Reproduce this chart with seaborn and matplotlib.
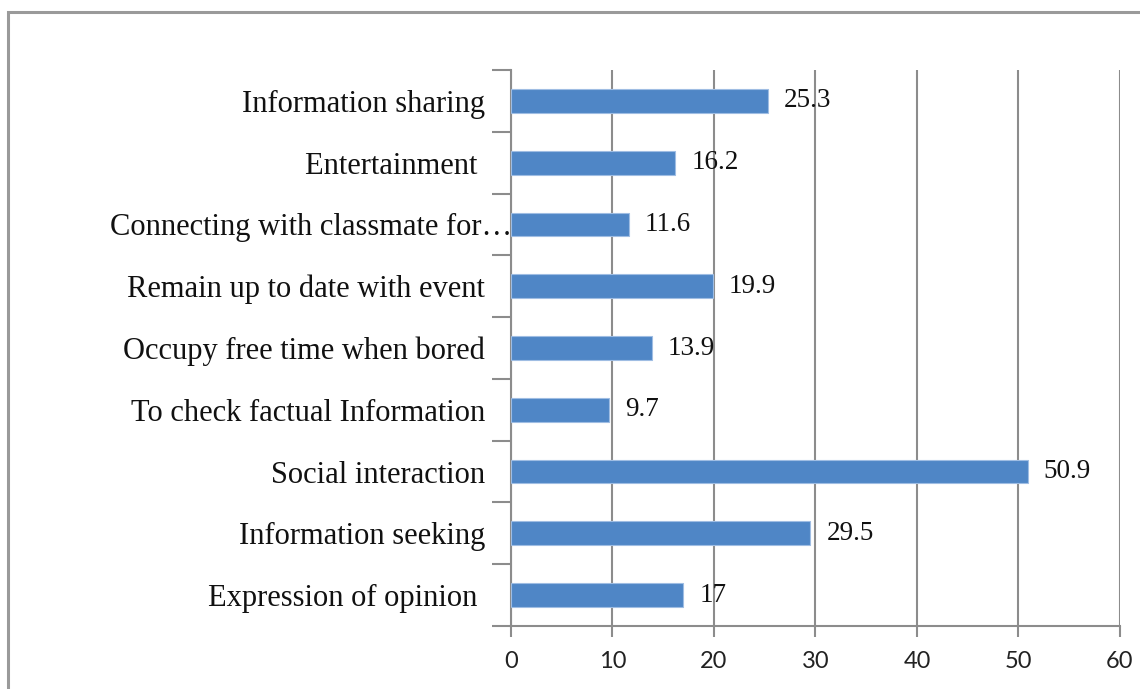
import matplotlib
matplotlib.use("Agg")
import matplotlib.pyplot as plt
import seaborn as sns
import pandas as pd
from matplotlib.patches import Rectangle

# data (top to bottom)
categories = [
    "Information sharing",
    "Entertainment ",
    "Connecting with classmate for\u2026",
    "Remain up to date with event",
    "Occupy free time when bored",
    "To check factual Information",
    "Social interaction",
    "Information seeking",
    "Expression of opinion ",
]
values = [25.3, 16.2, 11.6, 19.9, 13.9, 9.7, 50.9, 29.5, 17]
value_labels = ["25.3", "16.2", "11.6", "19.9", "13.9", "9.7", "50.9", "29.5", "17"]
x_ticks = [0, 10, 20, 30, 40, 50, 60]

df = pd.DataFrame({"reason": categories, "pct": values})

sns.set_theme(style="white")
serif = ["Liberation Serif", "DejaVu Serif"]
sans = ["Lato", "DejaVu Sans"]
grey = "#8c8c8c"

fig = plt.figure(figsize=(11.4, 6.89), dpi=100)
ax = fig.add_axes([0.4482, 0.0914, 0.5342, 0.807])

# outer frame of the original figure box
fig.patches.append(Rectangle((0.0072, -0.1), 1.2, 1.083, transform=fig.transFigure,
                             fill=False, edgecolor="#9a9a9a", linewidth=2.2, zorder=0))

sns.barplot(data=df, x="pct", y="reason", orient="h", color="#4f86c6", saturation=1,
            width=0.385, edgecolor="#9fbde3", linewidth=0.8, ax=ax, zorder=3)

ax.set_xlim(0, 60)
ax.set_ylim(len(categories) - 0.5, -0.5)
ax.set_xticks(x_ticks)
ax.set_xticklabels([str(t) for t in x_ticks], family=sans, fontsize=17, color="#222222")
ax.tick_params(axis="x", length=8, width=1.5, color=grey, pad=10, direction="out")

# category labels at the bar centres, tick marks on the boundaries
ax.set_yticks(range(len(categories)))
ax.set_yticklabels(categories, family=serif, fontsize=22, color="#111111")
ax.tick_params(axis="y", which="major", length=0, pad=18.5)
ax.set_yticks([i - 0.5 for i in range(len(categories) + 1)], minor=True)
ax.tick_params(axis="y", which="minor", length=14, width=1.5, color=grey, direction="out", left=True)
ax.tick_params(axis="x", bottom=True)

# the truncated label runs its ellipsis up to the axis line, as in the original
ax.yaxis.get_major_ticks()[2].set_pad(-1)

ax.grid(axis="x", color=grey, linewidth=1.5, zorder=0)
ax.set_axisbelow(True)
ax.set_xlabel("")
ax.set_ylabel("")

for side in ["top", "right"]:
    ax.spines[side].set_visible(False)
for side in ["left", "bottom"]:
    ax.spines[side].set_color(grey)
    ax.spines[side].set_linewidth(1.5)

for i, (v, lab) in enumerate(zip(values, value_labels)):
    ax.annotate(lab, (v, i), xytext=(11.5, 0), textcoords="offset points",
                ha="left", va="center", family=serif, fontsize=19.5, color="#111111", zorder=4)

plt.savefig("out.png", dpi=100)
